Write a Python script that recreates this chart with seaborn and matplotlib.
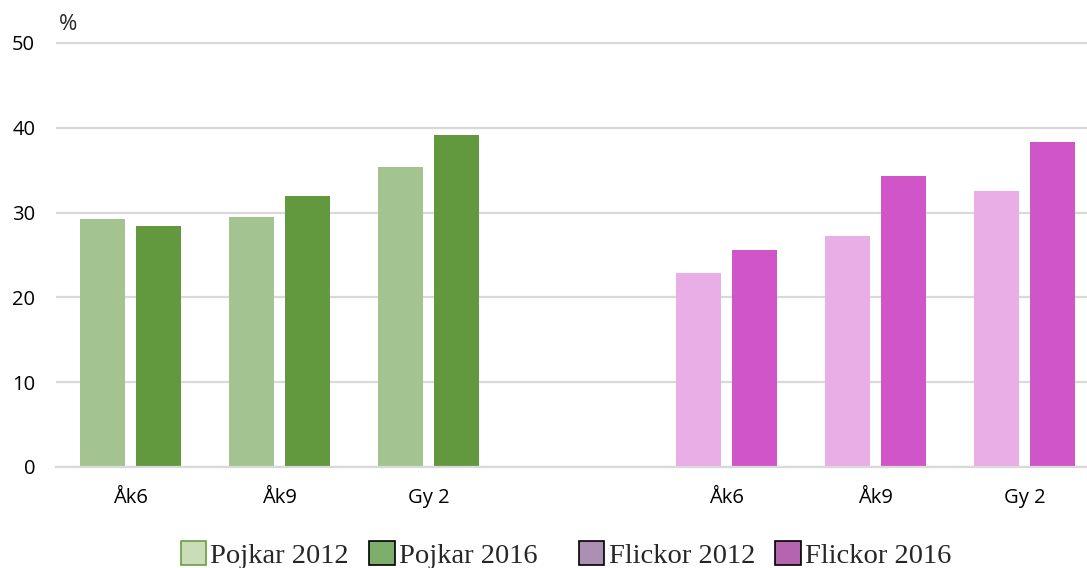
import matplotlib
matplotlib.use("Agg")
import matplotlib.pyplot as plt
from matplotlib.patches import Patch
import seaborn as sns
import pandas as pd

# Categories (school years), shown once for boys and once for girls
grades = ["Åk6", "Åk9", "Gy 2"]

# Share (%) per group and survey year
pojkar_2012 = [29.2, 29.5, 35.4]
pojkar_2016 = [28.4, 32.0, 39.2]
flickor_2012 = [22.9, 27.2, 32.5]
flickor_2016 = [25.6, 34.3, 38.3]

years = ["2012", "2016"]
legend_labels = ["Pojkar 2012", "Pojkar 2016", "Flickor 2012", "Flickor 2016"]

# Slot positions: boys on 0-2, an empty slot, girls on 4-6
boys_pos = [0, 1, 2]
girls_pos = [4, 5, 6]


def to_frame(pos, v2012, v2016):
    rows = []
    for p, a, b in zip(pos, v2012, v2016):
        rows.append({"pos": p, "year": years[0], "value": a})
        rows.append({"pos": p, "year": years[1], "value": b})
    return pd.DataFrame(rows)


df_boys = to_frame(boys_pos, pojkar_2012, pojkar_2016)
df_girls = to_frame(girls_pos, flickor_2012, flickor_2016)

sns.set_theme(style="white")
plt.rcParams["font.family"] = ["Open Sans", "DejaVu Sans"]

W, H = 1087, 568
fig = plt.figure(figsize=(W / 100, H / 100), dpi=100)
top_val = 50.5
ax_h = 424 * top_val / 50
ax = fig.add_axes([56 / W, (H - 467) / H, 1043 / W, ax_h / H])

green_light, green_dark = "#A3C490", "#62993E"
pink_light, pink_dark = "#E9AEE5", "#D055C8"

bar_kw = dict(x="pos", y="value", hue="year", hue_order=years,
              native_scale=True, width=0.76, gap=0.2, legend=False,
              saturation=1, linewidth=0, ax=ax)
sns.barplot(data=df_boys, palette=[green_light, green_dark], **bar_kw)
sns.barplot(data=df_girls, palette=[pink_light, pink_dark], **bar_kw)

ax.set_xlim(-0.5, 6.5)
ax.set_ylim(0, top_val)
ax.set_yticks([0, 10, 20, 30, 40, 50])
ax.set_xticks(boys_pos + girls_pos)
ax.set_xticklabels(grades + grades)
ax.set_xlabel("")
ax.set_ylabel("")

grid_c = "#D9D9D9"
ax.yaxis.grid(True, color=grid_c, linewidth=1.6)
ax.set_axisbelow(True)
for s in ["top", "right", "left"]:
    ax.spines[s].set_visible(False)
ax.spines["bottom"].set_color(grid_c)
ax.spines["bottom"].set_linewidth(1.6)
ax.tick_params(axis="both", length=0, labelsize=14.5, colors="#000000")
ax.tick_params(axis="y", pad=15)
ax.tick_params(axis="x", pad=15)

fig.text(59 / W, 1 - 24 / H, "%", fontsize=16, va="center", ha="left")

# Legend: two groups with a wider gap between boys and girls
serif = {"family": "Liberation Serif", "size": 20.5}
h_boys = [Patch(facecolor="#CADDB8", edgecolor="#6A9E45", linewidth=1.2),
          Patch(facecolor="#7DAF6A", edgecolor="#000000", linewidth=1.2)]
h_girls = [Patch(facecolor="#AC8FB3", edgecolor="#000000", linewidth=1.2),
           Patch(facecolor="#B565B0", edgecolor="#000000", linewidth=1.2)]
common = dict(ncol=2, frameon=False, prop=serif, handlelength=0.9,
              handleheight=0.9, handletextpad=0.15, columnspacing=0.7,
              borderaxespad=0, borderpad=0)
fig.legend(handles=h_boys, labels=legend_labels[:2],
           loc="center", bbox_to_anchor=(359 / W, 1 - 555 / H), **common)
fig.legend(handles=h_girls, labels=legend_labels[2:],
           loc="center", bbox_to_anchor=(765 / W, 1 - 555 / H), **common)

fig.savefig("out.png", dpi=100)
